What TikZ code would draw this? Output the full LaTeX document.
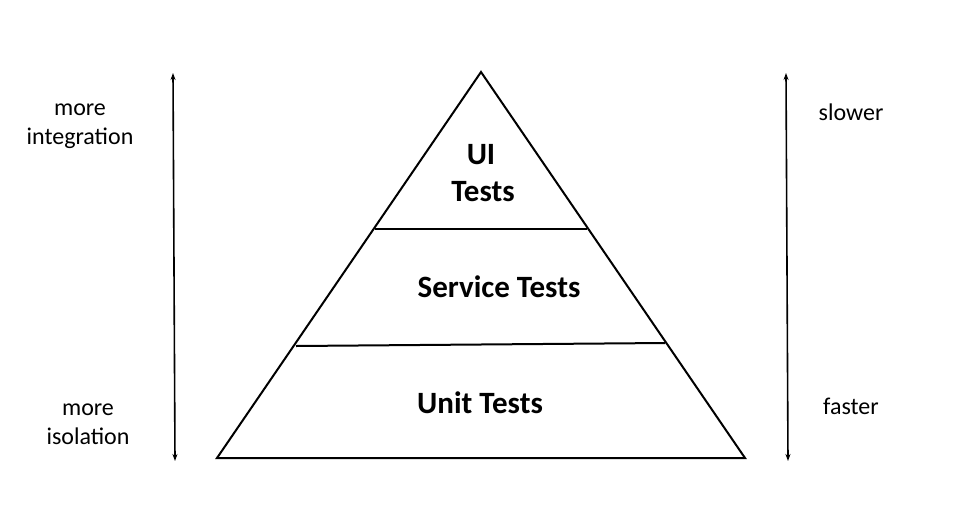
\documentclass[tikz,border=0pt]{standalone}
\usepackage{fontspec}
\setmainfont{Carlito}
\usetikzlibrary{arrows.meta}
\tikzset{
  side/.style={font=\fontsize{24}{29}\selectfont, align=center},
  layer/.style={font=\bfseries\fontsize{31}{36}\selectfont},
  axis/.style={line width=1.6pt, {Stealth[length=7pt,width=5pt]}-{Stealth[length=7pt,width=5pt]}}
}
\begin{document}
\begin{tikzpicture}[x=1pt,y=-1pt]
  \useasboundingbox (0,0) rectangle (978,520);

  % The pyramid
  \coordinate (apex) at (481,72);
  \coordinate (bl) at (217,458);
  \coordinate (br) at (745,458);
  \draw [line width=2pt] (apex) -- (br) -- (bl) -- cycle;
  % Layer borders
  \draw [line width=2pt] (375,229) -- (587,229);
  \draw [line width=2pt] (296,346) -- (665,343);

  % Layer labels
  \node [layer] (ui) at (481,155) {UI};
  \node [layer] (uitests) at (483,192) {Tests};
  \node [layer] (service) at (499,287) {Service Tests};
  \node [layer] (unit) at (480,403) {Unit Tests};

  % Side arrows
  \coordinate (ltop) at (173,73);
  \coordinate (lbot) at (175,461);
  \coordinate (rtop) at (786,73);
  \coordinate (rbot) at (788,461);
  \draw [axis] (ltop) -- (lbot);
  \draw [axis] (rtop) -- (rbot);

  % Side labels
  \node [side] (integ) at (80,126) {more\\integration};
  \node [side] (isol) at (88,424) {more\\isolation};
  \node [side] (slow) at (851,112) {slower};
  \node [side] (fast) at (851,406) {faster};
\end{tikzpicture}
\end{document}
